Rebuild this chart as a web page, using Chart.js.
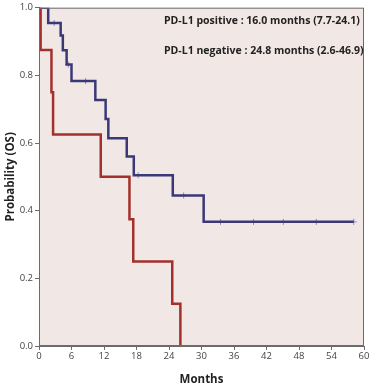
<!DOCTYPE html>
<html>
<head>
<meta charset="utf-8">
<script src="https://cdn.jsdelivr.net/npm/chart.js@4.4.1/dist/chart.umd.min.js"></script>
<style>
  html, body { margin: 0; padding: 0; background: #fff; }
  #wrap { width: 371px; height: 385px; }
</style>
</head>
<body>
<div id="wrap"><canvas id="km"></canvas></div>
<script>
// Kaplan-Meier steps (months, survival)
const posTimes = [0, 1.7, 4.0, 4.4, 5.1, 6.0, 10.4, 12.3, 12.8, 16.2, 17.5, 24.7, 30.4, 58.1];
const posSurv  = [1.0, 0.955, 0.918, 0.874, 0.832, 0.783, 0.727, 0.671, 0.614, 0.560, 0.505, 0.445, 0.367, 0.367];
const posCensTimes = [2.8, 5.4, 8.6, 18.3, 26.7, 33.5, 39.6, 45.1, 51.2, 58.1];
const posCensSurv  = [0.955, 0.832, 0.783, 0.505, 0.445, 0.367, 0.367, 0.367, 0.367, 0.367];

const negTimes = [0, 0.3, 2.3, 2.6, 11.4, 16.7, 17.4, 24.6, 26.1];
const negSurv  = [1.0, 0.875, 0.75, 0.625, 0.5, 0.375, 0.25, 0.125, 0.0];

const legendLines = [
  "PD-L1 positive : 16.0 months (7.7-24.1)",
  "PD-L1 negative : 24.8 months (2.6-46.9)"
];

const colors = {
  pos: "#3b3878",
  posCens: "#8a88bb",
  neg: "#a3302c",
  plotBg: "#f1e7e4",
  axis: "#6b6b6b",
  text: "#444",
};

function pts(xs, ys) {
  return xs.map((x, i) => ({ x: x, y: ys[i] }));
}

// plot background + frame + the two median lines
const decor = {
  id: "decor",
  beforeDraw(chart) {
    const a = chart.chartArea, ctx = chart.ctx;
    ctx.save();
    ctx.fillStyle = colors.plotBg;
    ctx.fillRect(a.left, a.top, a.right - a.left, a.bottom - a.top);
    ctx.restore();
  },
  afterDraw(chart) {
    const a = chart.chartArea, ctx = chart.ctx;
    ctx.save();
    ctx.strokeStyle = colors.axis;
    ctx.lineWidth = 1;
    ctx.strokeRect(a.left + 0.5, a.top + 0.5, a.right - a.left - 1, a.bottom - a.top - 1);
    ctx.fillStyle = "#222";
    ctx.font = "bold 10.5px 'Open Sans'";
    ctx.textBaseline = "middle";
    ctx.fillText(legendLines[0], 164, 21);
    ctx.fillText(legendLines[1], 164, 51);
    ctx.restore();
  }
};

new Chart(document.getElementById("km"), {
  type: "line",
  data: {
    datasets: [
      {
        label: "negative",
        data: pts(negTimes, negSurv),
        borderColor: colors.neg,
        borderWidth: 2.5,
        stepped: true,
        pointRadius: 0,
        fill: false,
      },
      {
        label: "positive",
        data: pts(posTimes, posSurv),
        borderColor: colors.pos,
        borderWidth: 2.5,
        stepped: true,
        pointRadius: 0,
        fill: false,
      },
      {
        label: "censored",
        data: pts(posCensTimes, posCensSurv),
        showLine: false,
        pointStyle: "cross",
        pointRadius: 3,
        pointBorderWidth: 1,
        borderColor: colors.posCens,
        backgroundColor: colors.posCens,
      },
    ],
  },
  options: {
    responsive: true,
    maintainAspectRatio: false,
    animation: false,
    layout: { padding: { top: 5, right: 7, left: 0, bottom: 0 } },
    plugins: {
      legend: { display: false },
      tooltip: { enabled: false },
    },
    scales: {
      x: {
        type: "linear",
        min: 0,
        max: 60,
        ticks: { stepSize: 6, color: colors.text, font: { size: 9.5, family: "Open Sans" }, padding: 1 },
        grid: { drawOnChartArea: false, tickLength: 4, color: colors.axis },
        border: { color: colors.axis },
        title: { display: true, text: "Months", color: "#222", font: { size: 11.5, weight: "bold", family: "Open Sans" }, padding: { top: 6, bottom: -1.5 } },
        afterFit: (s) => { s.height = 39; },
      },
      y: {
        min: 0,
        max: 1,
        ticks: { stepSize: 0.2, color: colors.text, font: { size: 9.5, family: "Open Sans" }, padding: 2,
                 callback: (v) => v.toFixed(1) },
        grid: { drawOnChartArea: false, tickLength: 4, color: colors.axis },
        border: { color: colors.axis },
        title: { display: true, text: "Probability (OS)", color: "#222", font: { size: 11.5, weight: "bold", family: "Open Sans" }, padding: { top: 4, bottom: 0 } },
        afterFit: (s) => { s.width = 39; },
      },
    },
  },
  plugins: [decor],
});
</script>
</body>
</html>
